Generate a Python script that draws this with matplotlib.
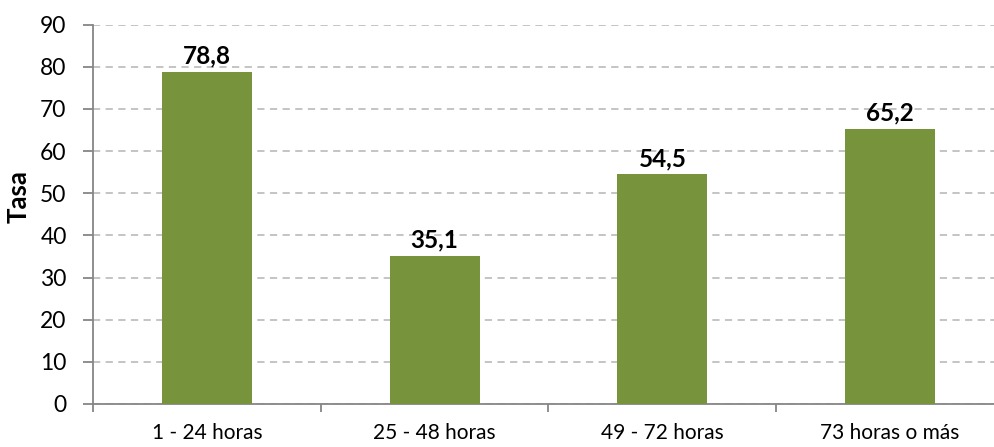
import matplotlib.pyplot as plt

categories = ["1 - 24 horas", "25 - 48 horas", "49 - 72 horas", "73 horas o más"]
values = [78.8, 35.1, 54.5, 65.2]
value_labels = ["78,8", "35,1", "54,5", "65,2"]
y_ticks = list(range(0, 100, 10))

plt.rcParams["font.family"] = ["Lato", "DejaVu Sans"]

fig = plt.figure(figsize=(9.95, 4.47), dpi=100)
ax = fig.add_axes([93 / 995, 43 / 447, 911 / 995, 379.5 / 447])

x = list(range(len(categories)))
ax.bar(x, values, width=0.395, color="#77933C", zorder=3)

for xi, v, lab in zip(x, values, value_labels):
    ax.annotate(lab, (xi, v), xytext=(0, 3), textcoords="offset points",
                ha="center", va="bottom", fontsize=17.5, fontweight="bold", color="black")

ax.set_xlim(-0.5, len(categories) - 0.5)
ax.set_ylim(0, 90)
ax.set_yticks(y_ticks)
ax.set_xticks(x)
ax.set_xticklabels(categories)
ax.set_xticks([i - 0.5 for i in range(len(categories) + 1)], minor=True)
ax.tick_params(axis="x", which="major", length=0, pad=14, labelsize=15)
ax.tick_params(axis="x", which="minor", length=6, width=1.3, color="#868686", direction="out")
ax.tick_params(axis="y", length=7, width=1.3, color="#868686", labelsize=16.5, pad=12)

ax.grid(axis="y", color="#BFBFBF", linestyle=(0, (4, 3)), linewidth=1.3, zorder=0)
for side in ["top", "right"]:
    ax.spines[side].set_visible(False)
for side in ["left", "bottom"]:
    ax.spines[side].set_color("#868686")
    ax.spines[side].set_linewidth(1.3)

ax.set_ylabel("Tasa", fontsize=18.5, fontweight="bold")
ax.yaxis.set_label_coords(-62 / 911, (404 - 197) / 379.5)

fig.savefig("out.png", dpi=100)
